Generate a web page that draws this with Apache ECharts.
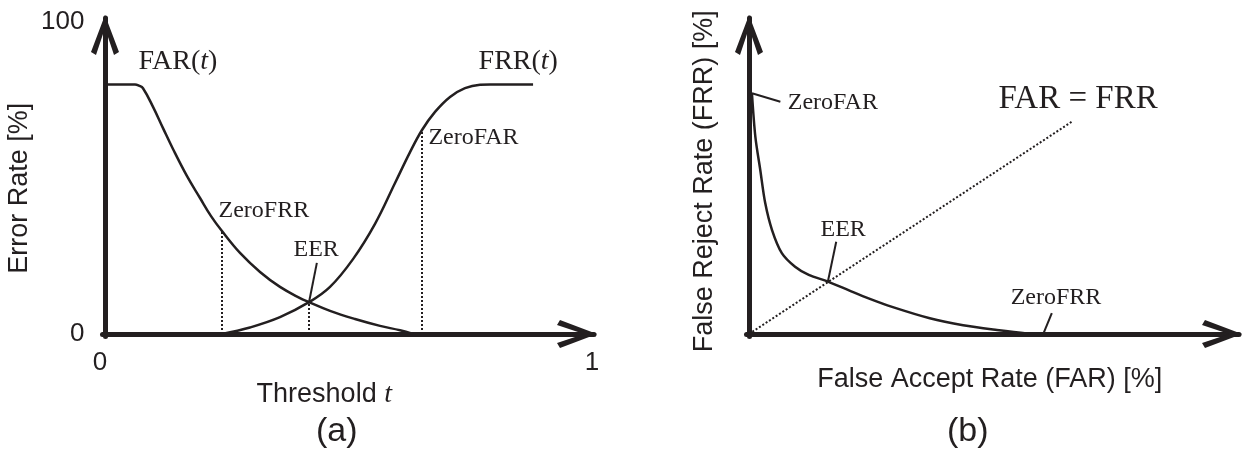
<!DOCTYPE html>
<html><head><meta charset="utf-8">
<script src="https://cdn.jsdelivr.net/npm/echarts@6/dist/echarts.min.js"></script>
<style>html,body{margin:0;padding:0;background:#fff}#c{width:1247px;height:452px}</style>
</head><body><div id="c"></div>
<script>
// ---------- Panel (a): error rates vs threshold t ----------
const farCurve = [[0,80],[0.0616,80],[0.0698,79.6],[0.0780,78.8],[0.0986,72.8],[0.1191,66.0],[0.1396,59.3],[0.1684,50.6],[0.1951,43.6],[0.2177,37.8],[0.2402,33.0],[0.2772,26.0],[0.3183,19.9],[0.3593,15.1],[0.4004,11.5],[0.4189,10.2],[0.4620,7.4],[0.5133,4.8],[0.5647,2.6],[0.6057,1.2],[0.6324,0]];
const frrCurve = [[0.2402,0],[0.2977,2.1],[0.3593,5.4],[0.4189,10.2],[0.4620,15.1],[0.5092,24.0],[0.5544,35.3],[0.5955,48.4],[0.6263,58.3],[0.6509,65.4],[0.6776,71.2],[0.7084,76.0],[0.7392,78.8],[0.7700,79.9],[0.7906,80],[0.8789,80]];
const markT = [0.2402, 0.4189, 0.6509];      // ZeroFRR, EER, ZeroFAR thresholds
const markV = [33.0, 10.2, 65.0];
const xTicksA = [0, 1];
const yTicksA = [0, 100];
const labelsA = [['FAR(t)',0.068,87.2],['FRR(t)',0.766,87.2],['ZeroFRR',0.232,39.4],['EER',0.386,26.9],['ZeroFAR',0.663,62.8]];
const leadersA = [[[0.435,22.8],[0.4189,10.2]]];

// ---------- Panel (b): FRR vs FAR curve ----------
const rocFAR = [0.6,1.3,2.3,3.3,4.7,6.7,9.4,12.2,16.1,20.3,24.4,29.2,36.9,43.7,50.6,56.7,59.4];
const rocFRR = [76.2,62.4,51.9,41.5,32.9,25.6,21.3,18.7,16.6,13.9,11.3,8.6,5.0,2.8,1.3,0.2,0];
const diagLine = [[0,0],[65.9,67.2]];
const labelsB = [['ZeroFAR',7.8,73.1],['EER',14.5,32.9],['ZeroFRR',53.3,11.4],['FAR = FRR',50.8,74.4]];
const leadersB = [[[0.6,76.2],[6.4,73.5]],[[17.8,29.2],[16.1,16.6]],[[60.1,0.2],[61.8,6.6]]];

const INK = '#231f20';
const SANS = 'Liberation Sans';
const SERIF = 'Liberation Serif';
const arrowPath = 'path://M14,0 L28,37 L23,40 L14,13 L5,40 L0,37 Z';

function axisLine() {
  return { show: true, onZero: true, lineStyle: { color: INK, width: 5 },
           symbol: ['none', arrowPath], symbolSize: [28, 40], symbolOffset: [0, -17] };
}
function labelSize(t) { return t === 'FAR = FRR' ? 33 : (t.indexOf('(t)') >= 0 ? 28 : 24); }
function labelSeries(list, idx) {
  return {
    type: 'scatter', xAxisIndex: idx, yAxisIndex: idx, symbolSize: 1, silent: true, z: 5,
    itemStyle: { color: 'rgba(0,0,0,0)', opacity: 1 },
    data: list.map(([t, x, y]) => ({
      value: [x, y],
      label: {
        show: true, position: 'right', distance: 0,
        formatter: t.replace('(t)', '({i|t})'),
        fontSize: labelSize(t), fontFamily: SERIF, color: INK,
        rich: { i: { fontStyle: 'italic', fontSize: labelSize(t), fontFamily: SERIF, color: INK } }
      }
    }))
  };
}
function lineSeries(data, idx, width, type, smooth) {
  return { type: 'line', xAxisIndex: idx, yAxisIndex: idx, data: data, symbol: 'none', silent: true,
           smooth: smooth || false,
           lineStyle: { color: INK, width: width, type: type || 'solid' } };
}

const series = [];
series.push(lineSeries(farCurve, 0, 2.5, 'solid', 0.4));
series.push(lineSeries(frrCurve, 0, 2.5, 'solid', 0.4));
markT.forEach((t, i) => series.push(lineSeries([[t, 0], [t, markV[i]]], 0, 2, [2, 2])));
leadersA.forEach(l => series.push(lineSeries(l, 0, 2)));
series.push(labelSeries(labelsA, 0));

series.push(lineSeries(rocFAR.map((x, i) => [x, rocFRR[i]]), 1, 2.5, 'solid', 0.3));
series.push(lineSeries(diagLine, 1, 2, [2, 2]));
leadersB.forEach(l => series.push(lineSeries(l, 1, 2)));
series.push(labelSeries(labelsB, 1));

const option = {
  animation: false,
  backgroundColor: '#fff',
  textStyle: { fontFamily: SANS, color: INK },
  title: [
    { text: '(a)', left: 316, top: 415, padding: 0, textStyle: { fontSize: 34, fontWeight: 'normal', fontFamily: SANS, color: INK } },
    { text: '(b)', left: 947, top: 415, padding: 0, textStyle: { fontSize: 34, fontWeight: 'normal', fontFamily: SANS, color: INK } }
  ],
  grid: [
    { left: 102.5, top: 18, width: 491.5, height: 318.5 },
    { left: 746.5, top: 18, width: 492.5, height: 318.5 }
  ],
  xAxis: [
    { type: 'value', gridIndex: 0, min: -0.00513, max: 1.004,
      axisLine: axisLine(), axisTick: { show: false }, splitLine: { show: false },
      axisLabel: { customValues: xTicksA, margin: 13, fontSize: 26, fontFamily: SANS, color: INK,
        formatter: v => v === 0 ? '{s|0}' : String(v),
        rich: { s: { padding: [0, 10, 0, 0], fontSize: 26, fontFamily: SANS, color: INK } } },
      name: 'Threshold {i|t}', nameLocation: 'middle', nameGap: 33.5,
      nameTextStyle: { fontSize: 27, fontFamily: SANS, color: INK, padding: [0, 48, 0, 0],
        rich: { i: { fontFamily: SERIF, fontStyle: 'italic', fontSize: 28, color: INK } } } },
    { type: 'value', gridIndex: 1, min: -0.51, max: 100,
      axisLine: axisLine(), axisTick: { show: false }, splitLine: { show: false }, axisLabel: { show: false },
      name: 'False Accept Rate (FAR) [%]', nameLocation: 'middle', nameGap: 29.5,
      nameTextStyle: { fontSize: 27, fontFamily: SANS, color: INK, padding: [0, 6, 0, 0] } }
  ],
  yAxis: [
    { type: 'value', gridIndex: 0, min: -0.8, max: 101.3,
      axisLine: axisLine(), axisTick: { show: false }, splitLine: { show: false },
      axisLabel: { customValues: yTicksA, margin: 18, fontSize: 26, fontFamily: SANS, color: INK },
      name: 'Error Rate [%]', nameLocation: 'middle', nameRotate: 90, nameGap: 69.5,
      nameTextStyle: { fontSize: 27, fontFamily: SANS, color: INK, padding: [0, 22, 0, 0] } },
    { type: 'value', gridIndex: 1, min: -0.79, max: 100,
      axisLine: axisLine(), axisTick: { show: false }, splitLine: { show: false }, axisLabel: { show: false },
      name: 'False Reject Rate (FRR) [%]', nameLocation: 'middle', nameRotate: 90, nameGap: 28.5,
      nameTextStyle: { fontSize: 27, fontFamily: SANS, color: INK, padding: [0, 8, 0, 0] } }
  ],
  series: series
};

const chart = echarts.init(document.getElementById('c'), null, { renderer: 'canvas' });
chart.setOption(option);
</script>
</body></html>
